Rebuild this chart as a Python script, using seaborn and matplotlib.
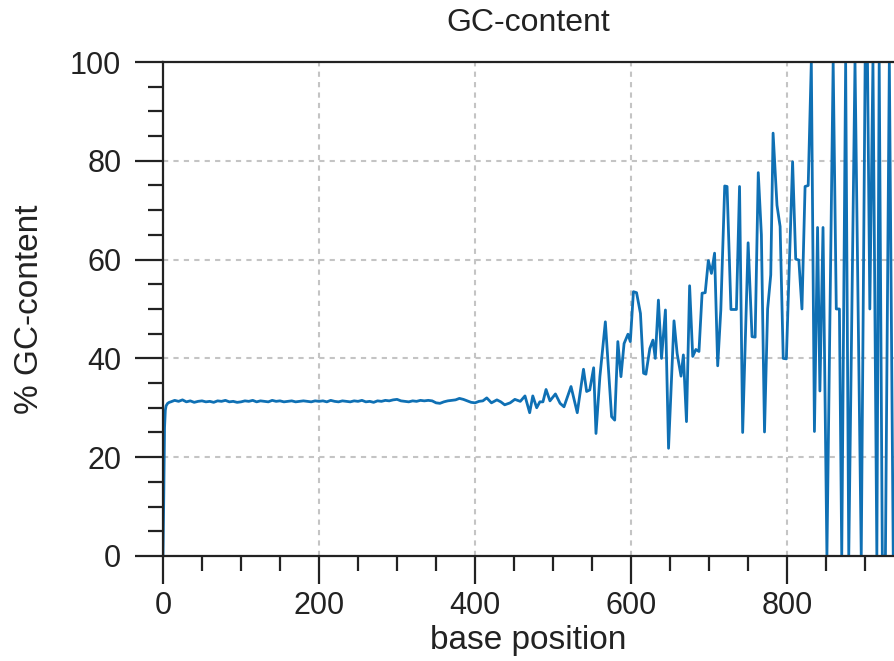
import matplotlib
matplotlib.use("Agg")
import matplotlib.pyplot as plt
from matplotlib.ticker import MultipleLocator
import seaborn as sns
import pandas as pd

# ---- data -------------------------------------------------------------
start_pos = [0, 1, 2, 3, 4, 6, 8]
start_gc = [0.0, 12.0, 26.0, 29.5, 30.4, 30.9, 31.1]

flat_pos = list(range(10, 375, 5))
flat_gc = [31.2, 31.5, 31.3, 31.6, 31.2, 31.4, 31.1, 31.3, 31.4, 31.2,
           31.3, 31.1, 31.4, 31.3, 31.5, 31.2, 31.3, 31.1, 31.2, 31.4,
           31.3, 31.5, 31.2, 31.4, 31.3, 31.2, 31.5, 31.3, 31.4, 31.2,
           31.3, 31.4, 31.2, 31.3, 31.4, 31.3, 31.2, 31.4, 31.3, 31.4,
           31.2, 31.5, 31.3, 31.2, 31.4, 31.3, 31.2, 31.4, 31.3, 31.5,
           31.2, 31.3, 31.1, 31.4, 31.3, 31.5, 31.4, 31.6, 31.7, 31.4,
           31.3, 31.2, 31.4, 31.3, 31.5, 31.4, 31.5, 31.4, 31.0, 30.9,
           31.2, 31.4, 31.5]

tail_pos = [375, 380, 385, 390, 395, 400, 405, 410, 415, 421, 428, 433,
            438, 445, 451, 458, 464, 470, 474, 479, 483, 487, 491, 496,
            503, 509, 514, 523, 531, 539, 543, 547, 552, 555, 560, 567,
            575, 579, 583, 587, 591, 596, 599, 603, 607, 612, 616, 619,
            624, 628, 631, 635, 639, 644, 648, 655, 659, 664, 667, 671,
            675, 679, 683, 687, 691, 695, 699, 703, 707, 711, 715, 720,
            723, 728, 733, 735, 739, 743, 750, 755, 759, 763, 767, 771,
            775, 779, 782, 787, 791, 795, 799, 803, 807, 811, 815, 819,
            823, 827, 831, 835, 839, 842, 846, 851, 859, 863, 867, 870,
            875, 879, 887, 895, 900, 903, 906, 910, 915, 918, 922, 926,
            931, 936]
tail_gc = [31.6, 31.9, 31.7, 31.4, 31.1, 31.0, 31.3, 31.4, 32.0, 31.0,
           31.6, 31.2, 30.6, 31.0, 31.7, 31.3, 32.4, 29.0, 32.4, 30.0,
           31.2, 31.2, 33.7, 31.4, 32.8, 30.9, 30.2, 34.3, 29.0, 37.8,
           33.3, 33.6, 38.1, 24.8, 36.3, 47.4, 28.2, 27.5, 43.4, 36.3,
           43.0, 44.9, 43.4, 53.5, 53.3, 49.1, 37.0, 36.8, 42.0, 43.7,
           40.0, 51.8, 40.0, 49.8, 21.8, 47.6, 41.0, 36.4, 40.7, 27.2,
           54.7, 40.4, 41.8, 41.4, 53.2, 53.3, 59.8, 57.2, 61.3, 38.5,
           49.8, 74.9, 74.8, 49.9, 49.9, 49.9, 74.8, 25.0, 63.4, 44.4,
           44.3, 77.6, 65.0, 25.1, 50.0, 56.9, 85.6, 71.0, 66.7, 40.0,
           39.9, 59.9, 79.8, 60.1, 59.9, 50.0, 74.8, 75.0, 100.0, 25.2,
           66.5, 33.4, 66.5, 0.0, 100.0, 50.0, 50.0, 0.0, 100.0, 0.0,
           100.0, 0.0, 100.0, 100.0, 50.0, 100.0, 0.0, 100.0, 0.0, 0.0,
           100.0, 0.0]

x_major = [0, 200, 400, 600, 800]
y_major = [0, 20, 40, 60, 80, 100]

df = pd.DataFrame({
    "pos": start_pos + flat_pos + tail_pos,
    "gc": start_gc + flat_gc + tail_gc,
})

# ---- style ------------------------------------------------------------
sns.set_theme(style="ticks")
plt.rcParams["font.family"] = ["Liberation Sans", "DejaVu Sans"]

fig = plt.figure(figsize=(8.95, 6.61), dpi=100)
ax = fig.add_axes([0.1821, 0.1589, 0.8168, 0.7473])

sns.lineplot(data=df, x="pos", y="gc", ax=ax, color="#0f70b4",
             linewidth=2.0, sort=False)

ax.set_xlim(0, 937)
ax.set_ylim(0, 100)
ax.set_xticks(x_major)
ax.set_yticks(y_major)
ax.xaxis.set_minor_locator(MultipleLocator(50))
ax.yaxis.set_minor_locator(MultipleLocator(5))

ax.grid(True, which="major", linestyle=(0, (2.5, 2.5)), color="#c4c4c4",
        linewidth=1.5)
ax.set_axisbelow(True)

for side in ["left", "bottom", "top"]:
    ax.spines[side].set_color("#222222")
    ax.spines[side].set_linewidth(1.6)
ax.spines["right"].set_visible(False)

ax.tick_params(axis="both", which="major", length=20, width=1.6,
               color="#222222", labelsize=22, labelcolor="#222222",
               direction="out", bottom=True, left=True, top=False, right=False)
ax.tick_params(axis="both", which="minor", length=10.5, width=1.6,
               color="#222222", direction="out", bottom=True, left=True,
               top=False, right=False)
ax.tick_params(axis="x", which="major", pad=5)
ax.tick_params(axis="y", which="major", pad=10)

ax.set_xlabel("base position", fontsize=24, color="#222222", labelpad=3)
ax.set_ylabel("% GC-content", fontsize=24, color="#222222", labelpad=18)
ax.set_title("GC-content", fontsize=23, color="#222222", pad=22)

fig.savefig("out.png", dpi=100)
